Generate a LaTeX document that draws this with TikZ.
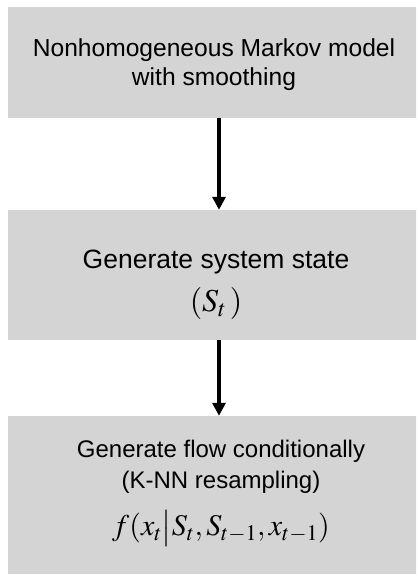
\documentclass[tikz,border=0pt]{standalone}
\usepackage{mathptmx}
\usepackage[no-math]{fontspec}
\setmainfont{Liberation Sans}
\usetikzlibrary{arrows.meta,positioning}

\definecolor{boxgray}{RGB}{212,212,212}

\tikzset{
  panel/.style={fill=boxgray, minimum width=410pt, inner sep=0pt},
  paneltext/.style={anchor=base, align=center, inner sep=0pt},
  flow/.style={line width=4pt, -{Triangle[length=13pt,width=13pt]}},
}

\begin{document}
\begin{tikzpicture}[x=1pt,y=-1pt]
\useasboundingbox (0,0) rectangle (416,574);
\clip (0,0) rectangle (416,574);

% Gray panels
\node[panel, minimum height=111pt] (markov) at (213,62.5) {};
\node[panel, minimum height=130pt] (state) at (213,275) {};
\node[panel, minimum height=170pt] (knn) at (213,501) {};

% Texts inside the panels (placed at the baseline of their last line)
\node[paneltext, font={\fontsize{24.6}{28.3}\selectfont}] (markovtxt) at (214,85)
  {Nonhomogeneous Markov model\\with smoothing};
\node[paneltext, font={\fontsize{26.5}{43.4}\selectfont\lineskiplimit=-50pt}] (statetxt) at (216,311.7)
  {Generate system state\\{\fontsize{32}{32}\selectfont$(S_t\,)$}};
\node[paneltext, font={\fontsize{24}{31}\selectfont\lineskiplimit=-50pt}] (knntxt) at (221,535.5)
  {Generate flow conditionally\\(K-NN resampling)\\[16pt]
   {\fontsize{30}{30}\selectfont$f(x_t\big|S_t,S_{t-1},x_{t-1})$}};

% Arrows between the steps
\draw[flow] ([xshift=6pt]markov.south) -- ([xshift=6pt]state.north);
\draw[flow] ([xshift=6pt]state.south) -- ([xshift=6pt]knn.north);

\end{tikzpicture}
\end{document}
